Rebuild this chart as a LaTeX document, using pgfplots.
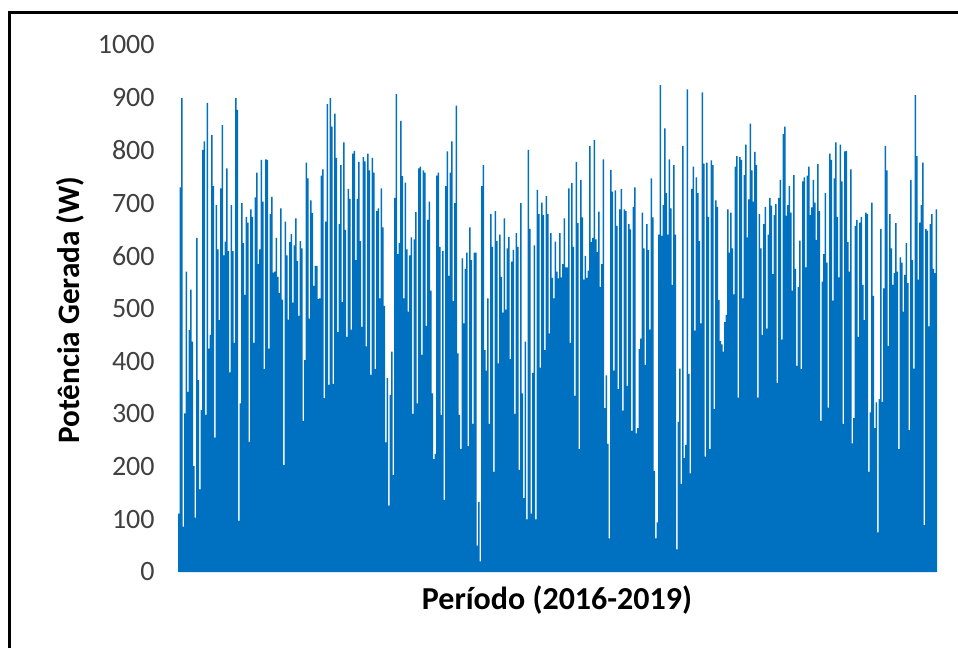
\documentclass[border=0pt]{standalone}
\usepackage{pgfplots}
\usepackage{pgfplotstable}
\pgfplotsset{compat=1.18}
\usepackage{fontspec}
\setmainfont{Carlito}
\definecolor{barblue}{HTML}{0070C0}
\definecolor{tickgray}{HTML}{404040}
\pgfplotstableread[row sep=\\]{
v\\
111\\730\\899\\86\\301\\570\\342\\459\\536\\437\\
201\\103\\634\\364\\157\\307\\801\\817\\298\\890\\
424\\450\\829\\732\\255\\696\\612\\478\\728\\848\\
601\\627\\766\\609\\379\\696\\609\\435\\899\\877\\
97\\320\\700\\624\\526\\674\\663\\247\\688\\674\\
435\\711\\758\\584\\612\\782\\703\\385\\783\\782\\
424\\679\\712\\568\\570\\634\\560\\529\\690\\517\\
203\\665\\601\\479\\626\\641\\511\\620\\671\\590\\
486\\628\\614\\287\\402\\777\\747\\481\\705\\681\\
543\\581\\581\\518\\519\\752\\764\\330\\665\\888\\
355\\899\\845\\357\\870\\786\\455\\660\\772\\512\\
815\\649\\446\\727\\708\\460\\794\\799\\592\\708\\
778\\628\\465\\787\\779\\428\\794\\762\\
374\\786\\758\\385\\685\\690\\519\\728\\654\\505\\
246\\368\\126\\336\\418\\184\\710\\907\\603\\624\\
856\\751\\519\\739\\612\\494\\601\\635\\300\\631\\
683\\320\\766\\769\\412\\762\\758\\467\\668\\703\\
534\\339\\214\\224\\752\\758\\617\\298\\609\\137\\
732\\798\\562\\758\\817\\514\\700\\885\\415\\298\\
233\\595\\472\\575\\606\\239\\654\\592\\281\\606\\
606\\50\\133\\20\\732\\772\\421\\382\\519\\281\\
679\\617\\190\\685\\628\\396\\640\\560\\492\\671\\
498\\614\\636\\404\\589\\611\\300\\643\\617\\194\\
700\\339\\140\\437\\100\\801\\651\\111\\378\\620\\
100\\725\\679\\388\\701\\677\\421\\713\\679\\453\\
643\\558\\519\\627\\570\\557\\
643\\559\\584\\671\\578\\578\\728\\435\\738\\617\\
334\\778\\662\\233\\744\\673\\555\\600\\558\\572\\
808\\626\\634\\820\\631\\607\\684\\541\\584\\783\\
311\\373\\243\\64\\763\\722\\382\\724\\657\\347\\
688\\727\\306\\688\\685\\353\\660\\650\\268\\693\\
730\\263\\273\\423\\443\\682\\614\\393\\660\\611\\
460\\747\\673\\192\\64\\94\\640\\924\\638\\696\\
842\\719\\640\\783\\690\\545\\772\\640\\43\\285\\
386\\167\\808\\216\\241\\916\\376\\187\\727\\769\\
458\\749\\719\\628\\472\\910\\775\\219\\777\\674\\
233\\781\\772\\309\\705\\693\\516\\438\\432\\418\\
474\\488\\688\\606\\682\\614\\527\\769\\789\\331\\
787\\782\\519\\753\\811\\635\\707\\
851\\762\\703\\797\\772\\331\\679\\614\\450\\660\\
693\\462\\640\\710\\695\\565\\677\\698\\359\\710\\
744\\441\\831\\845\\676\\696\\732\\682\\534\\753\\
575\\391\\541\\629\\385\\741\\749\\578\\752\\769\\
677\\692\\744\\701\\630\\774\\685\\287\\551\\603\\
719\\587\\312\\794\\782\\515\\747\\815\\674\\559\\
811\\741\\281\\798\\799\\626\\570\\764\\244\\292\\
657\\668\\446\\663\\674\\545\\478\\682\\679\\190\\
303\\701\\524\\273\\322\\75\\328\\651\\323\\538\\
808\\762\\429\\679\\614\\545\\567\\662\\570\\233\\
597\\587\\494\\564\\624\\548\\269\\744\\592\\386\\
905\\789\\555\\663\\696\\777\\89\\651\\648\\466\\
660\\679\\575\\567\\688\\688\\
}\powerdata

\begin{document}
\begin{tikzpicture}
\useasboundingbox (0,0) rectangle (479pt,324pt);
\fill[white] (0,0) rectangle (479pt,324pt);
\draw[line width=1.5pt] (4.75pt,0) -- (4.75pt,317.5pt) -- (479pt,317.5pt);
\begin{axis}[
  at={(89pt,38pt)}, anchor=south west,
  scale only axis, width=379.5pt, height=263.5pt,
  xmin=0, xmax=506, ymin=0, ymax=1000,
  ytick distance=100, xtick=\empty,
  scaled y ticks=false,
  axis line style={draw=none},
  major tick length=0pt,
  /pgf/number format/assume math mode=true,
  /pgf/number format/1000 sep={},
  yticklabel style={font=\fontsize{14}{16}\selectfont, text=tickgray, anchor=east, inner sep=0pt, xshift=-11.5pt},
  ylabel={Potência Gerada (W)},
  ylabel style={font=\fontsize{15.6}{18}\selectfont\bfseries, at={(axis description cs:-0.142,0.497)}, anchor=center},
  xlabel={Período (2016-2019)},
  xlabel style={font=\fontsize{16}{18}\selectfont\bfseries, at={(axis description cs:0.4993,-0.053)}, anchor=center},
  clip=false,
]
\addplot[const plot mark left, fill=barblue, draw=none] table[x expr=\coordindex, y=v] {\powerdata} \closedcycle;
\end{axis}
\end{tikzpicture}
\end{document}
